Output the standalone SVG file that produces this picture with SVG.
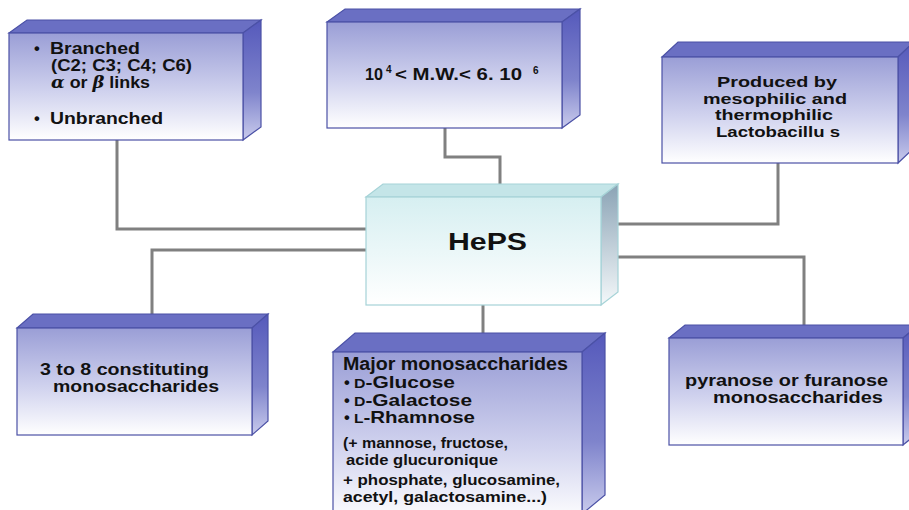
<svg xmlns="http://www.w3.org/2000/svg" width="909" height="510" viewBox="0 0 909 510">
<defs>
<linearGradient id="gFront" x1="0" y1="0" x2="0" y2="1">
<stop offset="0" stop-color="#9a9ed6"/><stop offset="0.55" stop-color="#d0d2ee"/><stop offset="1" stop-color="#ffffff"/>
</linearGradient>
<linearGradient id="gSide" x1="0" y1="0" x2="0" y2="1">
<stop offset="0" stop-color="#5559bb"/><stop offset="0.6" stop-color="#7f84cc"/><stop offset="1" stop-color="#c9cbec"/>
</linearGradient>
<linearGradient id="gFrontH" x1="0" y1="0" x2="0" y2="1">
<stop offset="0" stop-color="#d6eff1"/><stop offset="1" stop-color="#ffffff"/>
</linearGradient>
<linearGradient id="gSideH" x1="0" y1="0" x2="0" y2="1">
<stop offset="0" stop-color="#8aa3b5"/><stop offset="1" stop-color="#f4f8fa"/>
</linearGradient>
</defs>
<style>
.front{fill:url(#gFront);stroke:#4b51a6;stroke-width:1.2}
.top{fill:#6a6fc3;stroke:#4b51a6;stroke-width:1.2}
.side{fill:url(#gSide);stroke:#4b51a6;stroke-width:1.2}
.hfront{fill:url(#gFrontH);stroke:#a6d3d7;stroke-width:1.2}
.htop{fill:#c4e5e8;stroke:#a6d3d7;stroke-width:1.2}
.hside{fill:url(#gSideH);stroke:#a6d3d7;stroke-width:1.2}
.conn{fill:none;stroke:#808080;stroke-width:3}
text{font-family:"Liberation Sans",Arial,sans-serif;font-weight:bold;fill:#111}
.t{font-size:16.5px}
.t3{font-size:15px}
.tb{font-size:17.5px}
.ts{font-size:15.5px}
.sc{font-size:12.5px}
.sup{font-size:10px}
</style>

<g id="connectors">
<path class="conn" d="M117,140 V229 H368"/>
<path class="conn" d="M445,128 V157 H500 V186"/>
<path class="conn" d="M778,163 V224 H612"/>
<path class="conn" d="M368,250 H152 V316"/>
<path class="conn" d="M483,305 V335"/>
<path class="conn" d="M612,257 H804 V327"/>
</g>

<g id="node-structure">
<polygon class="top" points="9,33 27,20 261,20 243,33"/>
<polygon class="side" points="243,33 261,20 261,127 243,140"/>
<rect class="front" x="9" y="33" width="234" height="107"/>
<text class="t" x="34" y="54">•</text>
<text class="t" x="50" y="54" textLength="90" lengthAdjust="spacingAndGlyphs">Branched</text>
<text class="t" x="51" y="71" textLength="141" lengthAdjust="spacingAndGlyphs">(C2; C3; C4; C6)</text>
<text class="t" x="51" y="88" textLength="99" lengthAdjust="spacingAndGlyphs"><tspan font-family="'DejaVu Serif',serif" font-style="italic">α</tspan> or <tspan font-family="'DejaVu Serif',serif" font-style="italic">β</tspan> links</text>
<text class="t" x="34" y="124">•</text>
<text class="t" x="50" y="124" textLength="113" lengthAdjust="spacingAndGlyphs">Unbranched</text>
</g>

<g id="node-mw">
<polygon class="top" points="327,22 345,9 580,9 562,22"/>
<polygon class="side" points="562,22 580,9 580,115 562,128"/>
<rect class="front" x="327" y="22" width="235" height="106"/>
<text class="t" x="365" y="80" textLength="18" lengthAdjust="spacingAndGlyphs">10</text>
<text class="sup" x="386" y="73">4</text>
<text class="t" x="395" y="80" textLength="127" lengthAdjust="spacingAndGlyphs">&lt; M.W.&lt; 6. 10</text>
<text class="sup" x="533" y="74">6</text>
</g>

<g id="node-produced">
<polygon class="top" points="662,57 678,42 914,42 898,57"/>
<polygon class="side" points="898,57 914,42 914,148 898,163"/>
<rect class="front" x="662" y="57" width="236" height="106"/>
<text class="t3" x="717" y="87" textLength="120" lengthAdjust="spacingAndGlyphs">Produced by</text>
<text class="t3" x="703" y="103.5" textLength="144" lengthAdjust="spacingAndGlyphs">mesophilic and</text>
<text class="t3" x="715" y="120" textLength="118" lengthAdjust="spacingAndGlyphs">thermophilic</text>
<text class="t3" x="716" y="136.5" textLength="124" lengthAdjust="spacingAndGlyphs">Lactobacillu s</text>
</g>

<g id="node-heps">
<polygon class="htop" points="366,197 383,184 618,184 601,197"/>
<polygon class="hside" points="601,197 618,184 618,292 601,305"/>
<rect class="hfront" x="366" y="197" width="235" height="108"/>
<text x="448" y="250" font-size="24" textLength="79" lengthAdjust="spacingAndGlyphs">HePS</text>
</g>

<g id="node-constituting">
<polygon class="top" points="17,328 33,314 268,314 252,328"/>
<polygon class="side" points="252,328 268,314 268,421 252,435"/>
<rect class="front" x="17" y="328" width="235" height="107"/>
<text class="t" x="40" y="375" textLength="169" lengthAdjust="spacingAndGlyphs">3 to 8 constituting</text>
<text class="t" x="53" y="392" textLength="166" lengthAdjust="spacingAndGlyphs">monosaccharides</text>
</g>

<g id="node-major">
<polygon class="top" points="333,352 355,333 605,333 582,352"/>
<polygon class="side" points="582,352 605,333 605,495 582,514"/>
<rect class="front" x="333" y="352" width="249" height="170"/>
<text class="tb" x="343" y="370" textLength="225" lengthAdjust="spacingAndGlyphs">Major monosaccharides</text>
<text class="t" x="344" y="388">•</text>
<text class="t" x="354" y="388" textLength="101" lengthAdjust="spacingAndGlyphs"><tspan class="sc">D</tspan>-Glucose</text>
<text class="t" x="344" y="406">•</text>
<text class="t" x="354" y="406" textLength="118" lengthAdjust="spacingAndGlyphs"><tspan class="sc">D</tspan>-Galactose</text>
<text class="t" x="344" y="423">•</text>
<text class="t" x="354" y="423" textLength="121" lengthAdjust="spacingAndGlyphs"><tspan class="sc">L</tspan>-Rhamnose</text>
<text class="ts" x="343" y="448" textLength="165" lengthAdjust="spacingAndGlyphs">(+ mannose, fructose,</text>
<text class="ts" x="346" y="465" textLength="152" lengthAdjust="spacingAndGlyphs">acide glucuronique</text>
<text class="ts" x="343" y="485" textLength="217" lengthAdjust="spacingAndGlyphs">+ phosphate, glucosamine,</text>
<text class="ts" x="343" y="502" textLength="204" lengthAdjust="spacingAndGlyphs">acetyl, galactosamine...)</text>
</g>

<g id="node-pyranose">
<polygon class="top" points="669,338 685,325 919,325 903,338"/>
<polygon class="side" points="903,338 919,325 919,432 903,445"/>
<rect class="front" x="669" y="338" width="234" height="107"/>
<text class="t" x="685" y="386" textLength="203" lengthAdjust="spacingAndGlyphs">pyranose or furanose</text>
<text class="t" x="713" y="403" textLength="170" lengthAdjust="spacingAndGlyphs">monosaccharides</text>
</g>
</svg>
